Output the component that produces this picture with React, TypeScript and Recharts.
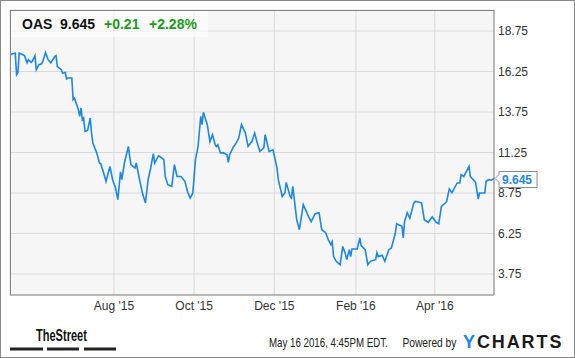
import React from 'react';
import { LineChart, Line, XAxis, YAxis, CartesianGrid, ReferenceDot } from 'recharts';

// [days since 2015-05-14, close]
const PRICE_POINTS: Array<[number, number]> = [
  [0, 17.29], [2, 17.35], [4, 17.38], [5, 16.05], [6, 16.18], [7, 17.38], [9, 17.32], [11, 17.23],
  [13, 16.79], [14, 16.98], [16, 16.82], [17, 16.89], [19, 17.23], [20, 16.36], [22, 16.67], [24, 16.73],
  [25, 16.89], [27, 17.43], [29, 16.98], [31, 16.79], [34, 17.18], [35, 17.23], [36, 16.56], [39, 16.36],
  [40, 16.16], [42, 16.19], [43, 15.79], [44, 15.85], [47, 15.85], [48, 14.51], [49, 14.61], [52, 13.89],
  [53, 13.48], [54, 14.0], [55, 13.27], [56, 13.38], [57, 12.55], [59, 12.61], [61, 13.38], [62, 12.45],
  [63, 11.84], [66, 11.22], [68, 10.6], [69, 10.56], [72, 9.77], [73, 9.47], [76, 10.39], [78, 9.57],
  [80, 9.14], [82, 8.34], [84, 10.06], [85, 9.57], [87, 10.6], [90, 11.63], [91, 10.99], [92, 10.5],
  [95, 10.29], [96, 10.6], [99, 9.37], [101, 8.65], [103, 8.13], [105, 9.57], [107, 10.31], [109, 11.18],
  [110, 10.6], [113, 11.05], [117, 10.81], [118, 9.77], [120, 9.26], [123, 9.16], [125, 10.5], [127, 9.77],
  [130, 9.77], [133, 9.47], [135, 8.83], [137, 8.44], [139, 8.75], [141, 10.81], [143, 11.63], [145, 13.48],
  [146, 12.97], [147, 13.73], [150, 12.97], [152, 11.92], [154, 12.35], [156, 11.73], [157, 11.61], [158, 11.73],
  [160, 11.22], [162, 11.24], [165, 11.11], [166, 10.64], [167, 11.11], [170, 11.61], [172, 11.84], [174, 12.16],
  [176, 12.97], [179, 12.45], [181, 11.63], [184, 11.94], [186, 12.45], [188, 11.84], [190, 11.32], [193, 11.53],
  [194, 12.35], [197, 11.32], [200, 11.42], [203, 10.29], [204, 9.57], [207, 8.54], [209, 8.75], [210, 9.4],
  [213, 8.54], [214, 8.44], [215, 9.16], [218, 7.1], [220, 6.48], [223, 8.03], [227, 7.29], [229, 6.98],
  [232, 7.47], [235, 7.53], [237, 6.48], [240, 6.3], [242, 5.87], [244, 5.56], [245, 5.74], [246, 4.84],
  [248, 4.53], [251, 4.32], [253, 5.45], [255, 5.0], [256, 4.63], [258, 5.25], [259, 4.82], [260, 5.29],
  [264, 5.29], [266, 5.97], [267, 5.5], [270, 5.25], [271, 4.84], [272, 4.32], [274, 4.53], [278, 4.63],
  [279, 5.06], [280, 4.82], [283, 4.91], [285, 4.53], [288, 5.25], [290, 5.35], [293, 6.28], [294, 6.85],
  [298, 6.69], [299, 5.97], [300, 6.98], [302, 7.53], [304, 7.19], [307, 8.13], [308, 8.23], [310, 8.21],
  [313, 8.13], [315, 7.1], [318, 6.94], [321, 7.27], [324, 6.94], [326, 6.85], [328, 7.92], [331, 8.13],
  [332, 8.23], [334, 9.0], [336, 8.77], [340, 9.37], [342, 9.37], [343, 9.88], [345, 9.77], [349, 10.39],
  [350, 9.77], [354, 9.4], [356, 8.38], [357, 8.75], [361, 8.75], [362, 9.47], [364, 9.57], [366, 9.54],
  [368, 9.645],
];

const X_TICKS = [79, 140, 201, 263, 323];
const X_LABELS = ["Aug '15", "Oct '15", "Dec '15", "Feb '16", "Apr '16"];
const Y_TICKS = [3.75, 6.25, 8.75, 11.25, 13.75, 16.25, 18.75];
const X_DOMAIN: [number, number] = [0, 368];
const Y_DOMAIN: [number, number] = [2.45, 20.05];

const TICKER = 'OAS';
const LAST_PRICE = 9.645;
const CHANGE = '+0.21';
const CHANGE_PCT = '+2.28%';
const STAMP = 'May 16 2016, 4:45PM EDT.';
const POWERED = 'Powered by';

const FONT = '"Liberation Sans", Arial, sans-serif';
const BLUE = '#1b87e6';
const GREEN = '#1c9c1c';

const chartData = PRICE_POINTS.map(([day, close]) => ({ day, close }));

const PriceFlag = (props: { cx?: number; cy?: number }) => {
  const cx = props.cx ?? 0;
  const cy = props.cy ?? 0;
  const pts = [
    [cx + 1, cy], [cx + 5, cy - 4], [cx + 5, cy - 7], [cx + 43, cy - 7],
    [cx + 43, cy + 9], [cx + 5, cy + 9], [cx + 5, cy + 4],
  ].map((p) => p.join(',')).join(' ');
  return (
    <g>
      <polygon points={pts} fill="#fff" stroke="#8a8a8a" strokeWidth={1} />
      <text x={cx + 8} y={cy + 6} fontFamily={FONT} fontSize={12} fontWeight="bold" fill={BLUE}>
        {LAST_PRICE.toFixed(3)}
      </text>
    </g>
  );
};

export default function App() {
  return (
    <div style={{ position: 'absolute', left: 0, top: 0, width: 575, height: 358, background: '#fff', fontFamily: FONT }}>
      <LineChart width={575} height={358} data={chartData} margin={{ top: 10, right: 0, bottom: 0, left: 10 }}>
        <CartesianGrid stroke="#d9d9d9" fill="#f6f6f6" />
        <XAxis
          dataKey="day"
          type="number"
          domain={X_DOMAIN}
          ticks={X_TICKS}
          tickFormatter={(v: number) => X_LABELS[X_TICKS.indexOf(v)] ?? ''}
          height={63}
          axisLine={{ stroke: '#858585' }}
          tickLine={false}
          tickSize={0}
          tickMargin={6}
          tick={{ fill: '#333', fontSize: 12, fontFamily: FONT }}
          allowDataOverflow
        />
        <YAxis
          orientation="right"
          type="number"
          domain={Y_DOMAIN}
          ticks={Y_TICKS}
          tickFormatter={(v: number) => v.toFixed(2)}
          width={81}
          axisLine={{ stroke: '#858585' }}
          tickLine={false}
          tickSize={0}
          tickMargin={4}
          tick={{ fill: '#333', fontSize: 12, fontFamily: FONT }}
          allowDataOverflow
        />
        <Line
          type="linear"
          dataKey="close"
          stroke={BLUE}
          strokeWidth={1.6}
          dot={false}
          isAnimationActive={false}
        />
        <ReferenceDot
          x={X_DOMAIN[1]}
          y={LAST_PRICE}
          r={0}
          ifOverflow="visible"
          shape={(p: any) => <PriceFlag cx={p.cx} cy={p.cy} />}
        />
      </LineChart>

      <svg width={575} height={358} style={{ position: 'absolute', left: 0, top: 0, pointerEvents: 'none' }}>
        {/* plot frame: top and left edges */}
        <line x1={10} y1={10.5} x2={494} y2={10.5} stroke="#858585" />
        <line x1={10.5} y1={10} x2={10.5} y2={295} stroke="#858585" />

        <rect x={11} y={11} width={197} height={26} fill="#fff" fillOpacity={0.6} />
        <g fontFamily={FONT} fontSize={14} fontWeight="bold">
          <text x={22} y={29} fill="#111">{TICKER}</text>
          <text x={60} y={29} fill="#111">{LAST_PRICE.toFixed(3)}</text>
          <text x={104} y={29} fill={GREEN}>{CHANGE}</text>
          <text x={149} y={29} fill={GREEN}>{CHANGE_PCT}</text>
        </g>

        <text transform="translate(36,341) scale(0.69,1)" fontFamily={FONT} fontSize={16} fontWeight="bold" fill="#111">
          TheStreet
        </text>
        <rect x={10} y={347.5} width={33} height={3} fill="#222" />
        <rect x={47} y={347.5} width={32} height={3} fill="#222" />
        <rect x={84} y={347.5} width={32} height={3} fill="#222" />

        <g fontFamily={FONT} fontSize={12} fill="#222">
          <text transform="translate(269,347) scale(0.81,1)">{STAMP}</text>
          <text transform="translate(402.5,347) scale(0.85,1)">{POWERED}</text>
        </g>
        <text x={463} y={347.5} fontFamily={FONT} fontSize={18} fontWeight="bold" letterSpacing={1.9}>
          <tspan fill={BLUE}>Y</tspan>
          <tspan fill="#1a1a1a">CHARTS</tspan>
        </text>

        <rect x={0.5} y={0.5} width={574} height={357} fill="none" stroke="#8a8a8a" strokeWidth={1} />
      </svg>
    </div>
  );
}
